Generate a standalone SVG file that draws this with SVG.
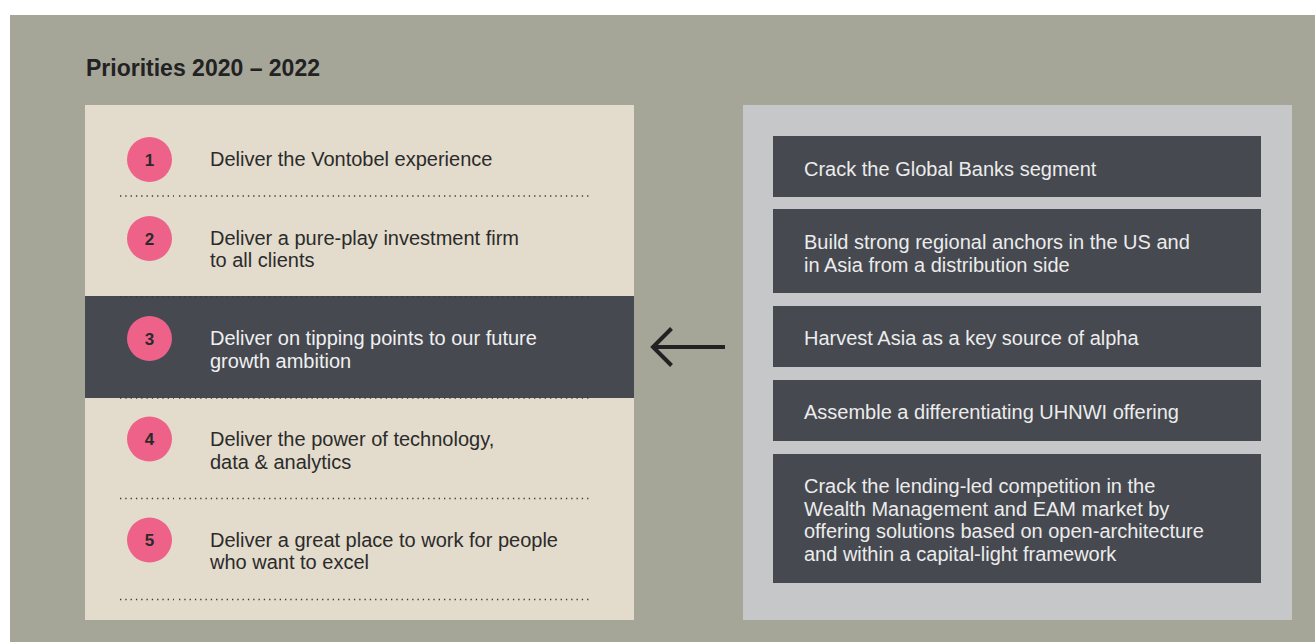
<svg xmlns="http://www.w3.org/2000/svg" width="1315" height="642" viewBox="0 0 1315 642">
<style>
.bg{fill:#a5a598}
.panelL{fill:#e3dbcc}
.band{fill:#464950}
.panelR{fill:#c6c7c9}
.box{fill:#464950}
.dot{stroke:#3a3a3a;stroke-width:1.4;stroke-dasharray:1.3 4;fill:none}
.circ{fill:#ee6289}
.num{font-family:"Liberation Sans",Arial,sans-serif;font-weight:bold;font-size:17px;fill:#2a2a2a;text-anchor:middle}
.lt{font-family:"Liberation Sans",Arial,sans-serif;font-size:20px;fill:#2b2b2b}
.lw{font-family:"Liberation Sans",Arial,sans-serif;font-size:20px;fill:#f0f0f0}
.rt{font-family:"Liberation Sans",Arial,sans-serif;font-size:20px;fill:#ececec}
.title{font-family:"Liberation Sans",Arial,sans-serif;font-weight:bold;font-size:23px;fill:#222222}
.arrow{stroke:#222222;stroke-width:4;fill:none;stroke-linecap:butt;stroke-linejoin:miter}
</style>
<rect x="0" y="0" width="1315" height="642" fill="#ffffff"/>
<rect class="bg" x="10" y="15" width="1305" height="627"/>
<text id="title" class="title" x="86" y="76">Priorities 2020 – 2022</text>

<g id="left-panel">
  <rect class="panelL" x="85" y="105" width="549" height="515"/>
  <rect class="band" x="85" y="296" width="549" height="102"/>
  <path class="dot" d="M120,196 H174 M179,196 H590"/>
  <path class="dot" d="M120,297 H174 M179,297 H590"/>
  <path class="dot" d="M120,398 H174 M179,398 H590"/>
  <path class="dot" d="M120,498.5 H174 M179,498.5 H590"/>
  <path class="dot" d="M120,599.5 H174 M179,599.5 H590"/>
</g>

<g id="priority-1">
  <circle class="circ" cx="149.5" cy="159.5" r="22.5"/>
  <text class="num" x="149.5" y="165.5">1</text>
  <text class="lt" x="210" y="166">Deliver the Vontobel experience</text>
</g>
<g id="priority-2">
  <circle class="circ" cx="149.5" cy="238.5" r="22.5"/>
  <text class="num" x="149.5" y="244.5">2</text>
  <text class="lt" x="210" y="244.5">Deliver a pure-play investment firm</text>
  <text class="lt" x="210" y="267">to all clients</text>
</g>
<g id="priority-3">
  <circle class="circ" cx="149.5" cy="338.5" r="22.5"/>
  <text class="num" x="149.5" y="344.5">3</text>
  <text class="lw" x="210" y="345">Deliver on tipping points to our future</text>
  <text class="lw" x="210" y="367.5">growth ambition</text>
</g>
<g id="priority-4">
  <circle class="circ" cx="149.5" cy="439" r="22.5"/>
  <text class="num" x="149.5" y="445">4</text>
  <text class="lt" x="210" y="445.7">Deliver the power of technology,</text>
  <text class="lt" x="210" y="468.5">data &amp; analytics</text>
</g>
<g id="priority-5">
  <circle class="circ" cx="149.5" cy="540" r="22.5"/>
  <text class="num" x="149.5" y="546">5</text>
  <text class="lt" x="210" y="546.7">Deliver a great place to work for people</text>
  <text class="lt" x="210" y="569">who want to excel</text>
</g>

<g id="right-panel">
  <rect class="panelR" x="743" y="105" width="549" height="515"/>
</g>
<g id="goal-1">
  <rect class="box" x="773" y="136" width="488" height="61"/>
  <text class="rt" x="804" y="175.5">Crack the Global Banks segment</text>
</g>
<g id="goal-2">
  <rect class="box" x="773" y="209" width="488" height="84"/>
  <text class="rt" x="804" y="249">Build strong regional anchors in the US and</text>
  <text class="rt" x="804" y="271.5">in Asia from a distribution side</text>
</g>
<g id="goal-3">
  <rect class="box" x="773" y="306" width="488" height="61"/>
  <text class="rt" x="804" y="345.3">Harvest Asia as a key source of alpha</text>
</g>
<g id="goal-4">
  <rect class="box" x="773" y="380" width="488" height="61"/>
  <text class="rt" x="804" y="419">Assemble a differentiating UHNWI offering</text>
</g>
<g id="goal-5">
  <rect class="box" x="773" y="454" width="488" height="129"/>
  <text class="rt" x="804" y="493.3">Crack the lending-led competition in the</text>
  <text class="rt" x="804" y="515.8">Wealth Management and EAM market by</text>
  <text class="rt" x="804" y="538.3">offering solutions based on open-architecture</text>
  <text class="rt" x="804" y="560.8">and within a capital-light framework</text>
</g>

<g id="connectors">
  <path class="arrow" d="M725,347 H654"/>
  <path class="arrow" d="M671.5,328.5 L653,347 L671.5,365.5"/>
</g>
</svg>
